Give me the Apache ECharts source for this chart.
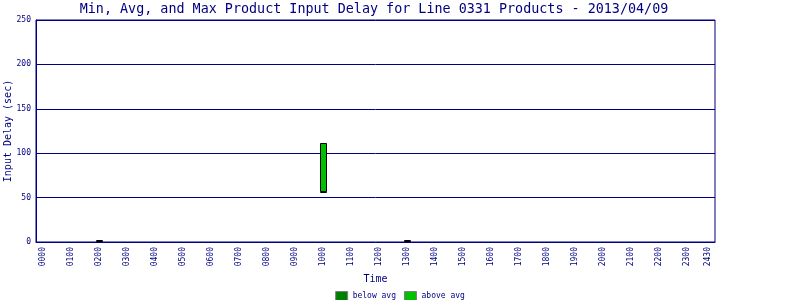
<!DOCTYPE html>
<html>
<head>
<meta charset="utf-8">
<script src="https://cdn.jsdelivr.net/npm/echarts@6/dist/echarts.min.js"></script>
<style>html,body{margin:0;padding:0;background:#fff}#c{width:800px;height:300px}</style>
</head>
<body>
<div id="c"></div>
<script>
// Data
const times = [2, 10, 13];            // hours
const minVals = [0, 56, 0];
const avgVals = [1, 56, 1];
const maxVals = [2, 112, 2];
const tickPositions = [0,1,2,3,4,5,6,7,8,9,10,11,12,13,14,15,16,17,18,19,20,21,22,23,23.75];
const tickLabels = ['0000','0100','0200','0300','0400','0500','0600','0700','0800','0900','1000','1100','1200','1300','1400','1500','1600','1700','1800','1900','2000','2100','2200','2300','2430'];

const NAVY = '#000080';
const FONT = 'DejaVu Sans Mono';

const belowData = times.map((t, i) => [t, minVals[i], avgVals[i]]);
const aboveData = times.map((t, i) => [t, avgVals[i], maxVals[i]]);

function rangeBar(params, api) {
  const x = api.value(0);
  const p1 = api.coord([x, api.value(1)]);
  const p2 = api.coord([x, api.value(2)]);
  const cx = Math.round(p1[0]) + 0.5;
  const top = Math.round(p2[1]) + 0.5;
  const bot = Math.round(p1[1]) - 0.5;
  return {
    type: 'rect',
    shape: {x: cx - 3, y: top, width: 6, height: Math.max(bot - top, 0)},
    style: {fill: api.visual('color'), stroke: '#000', lineWidth: 1}
  };
}

const chart = echarts.init(document.getElementById('c'), null, {renderer: 'canvas'});
chart.setOption({
  animation: false,
  title: {
    text: 'Min, Avg, and Max Product Input Delay for Line 0331 Products - 2013/04/09',
    left: 369, textAlign: 'center', top: -2,
    textStyle: {color: NAVY, fontFamily: FONT, fontSize: 13.4, fontWeight: 'normal'}
  },
  legend: {
    data: ['below avg', 'above avg'],
    left: 'center', top: 291, padding: 0,
    itemWidth: 12, itemHeight: 9, itemGap: 8,
    icon: 'rect',
    itemStyle: {borderColor: '#808080', borderWidth: 1},
    textStyle: {color: NAVY, fontFamily: FONT, fontSize: 8}
  },
  grid: {
    left: 36, right: 85, top: 20, bottom: 58,
    outerBoundsMode: 'none', containLabel: false,
    show: true, borderColor: NAVY, borderWidth: 1, backgroundColor: '#fff'
  },
  xAxis: {
    type: 'value', min: -0.25, max: 24,
    name: 'Time', nameLocation: 'middle', nameGap: 32, nameMoveOverlap: false,
    nameTextStyle: {color: NAVY, fontFamily: FONT, fontSize: 10},
    axisLine: {show: true, onZero: false, lineStyle: {color: NAVY, width: 1}},
    axisTick: {show: false},
    splitLine: {show: false},
    axisLabel: {
      customValues: tickPositions,
      rotate: 90, margin: 5,
      color: NAVY, fontFamily: FONT, fontSize: 8,
      formatter: v => { const i = tickPositions.indexOf(v); return i >= 0 ? tickLabels[i] : ''; }
    }
  },
  yAxis: {
    type: 'value', min: 0, max: 250, interval: 50,
    name: 'Input Delay (sec)', nameLocation: 'middle', nameGap: 23, nameMoveOverlap: false,
    nameTextStyle: {color: NAVY, fontFamily: FONT, fontSize: 10},
    axisLine: {show: true, onZero: false, lineStyle: {color: NAVY, width: 1}},
    axisTick: {show: true, inside: true, length: 3, lineStyle: {color: NAVY}},
    splitLine: {show: true, lineStyle: {color: NAVY, width: 1}},
    axisLabel: {color: NAVY, fontFamily: FONT, fontSize: 8, margin: 5}
  },
  series: [
    {name: 'below avg', type: 'custom', renderItem: rangeBar, data: belowData,
     encode: {x: 0, y: [1, 2]}, itemStyle: {color: '#008000'}},
    {name: 'above avg', type: 'custom', renderItem: rangeBar, data: aboveData,
     encode: {x: 0, y: [1, 2]}, itemStyle: {color: '#00c000'}}
  ]
});
</script>
</body>
</html>
